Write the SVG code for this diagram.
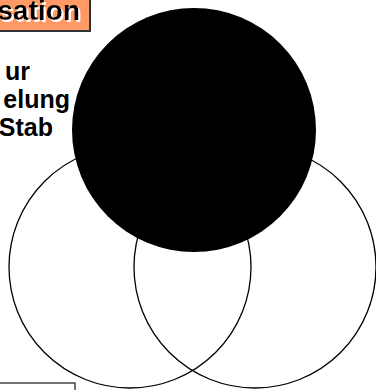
<svg xmlns="http://www.w3.org/2000/svg" width="376" height="390" viewBox="0 0 376 390">
<style>
.ring{fill:none;stroke:#000;stroke-width:1.3}
.lbl{font-family:"Liberation Sans",Arial,sans-serif;font-weight:bold;font-size:25px;fill:#000}
.title{font-family:"Liberation Sans",Arial,sans-serif;font-weight:bold;font-size:28px;fill:#000}
</style>
<defs>
<filter id="wshadow" x="-10%" y="-20%" width="130%" height="150%">
<feFlood flood-color="#fff" result="w"/>
<feComposite in="w" in2="SourceAlpha" operator="in" result="ws"/>
<feOffset in="ws" dx="2" dy="2" result="off"/>
<feMerge><feMergeNode in="off"/><feMergeNode in="SourceGraphic"/></feMerge>
</filter>
</defs>
<rect width="376" height="390" fill="#fff"/>
<g id="title-box">
<rect x="-3" y="-3" width="93" height="34" fill="#FF9966" stroke="#333" stroke-width="2"/>
<text class="title" x="80" y="20" text-anchor="end" filter="url(#wshadow)">sation</text>
</g>
<g id="labels">
<text class="lbl" x="30" y="80" text-anchor="end">ur</text>
<text class="lbl" x="70" y="108" text-anchor="end">elung</text>
<text class="lbl" x="53" y="136" text-anchor="end">Stab</text>
</g>
<g id="circle-left"><circle class="ring" cx="130" cy="267" r="121"/></g>
<g id="circle-right"><circle class="ring" cx="255" cy="267" r="121"/></g>
<g id="circle-top"><circle cx="194" cy="130" r="122" fill="#000"/></g>
<g id="bottom-box">
<rect x="-3" y="383" width="78" height="20" fill="none" stroke="#444" stroke-width="1.5"/>
</g>
</svg>
